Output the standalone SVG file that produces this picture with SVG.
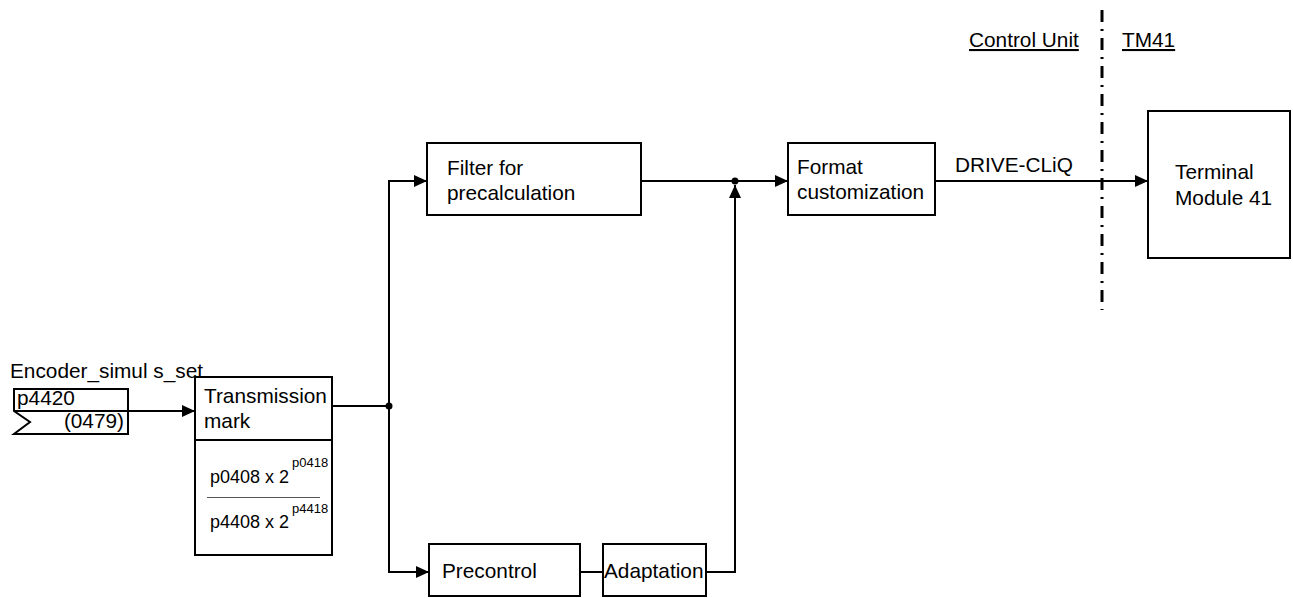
<svg xmlns="http://www.w3.org/2000/svg" width="1293" height="598" viewBox="0 0 1293 598">
<style>
.box{fill:#fff;stroke:#000;stroke-width:2}
.ln{fill:none;stroke:#000;stroke-width:2}
.t{font-family:"Liberation Sans",Arial,sans-serif;font-size:20.8px;fill:#000}
.f{font-family:"Liberation Sans",Arial,sans-serif;font-size:18px;fill:#000}
.s{font-family:"Liberation Sans",Arial,sans-serif;font-size:13px;fill:#000}
</style>
<defs>
<marker id="arr" markerUnits="userSpaceOnUse" markerWidth="14" markerHeight="12" refX="13" refY="6" orient="auto">
<path d="M0,0 L13,6 L0,12 z" fill="#000"/>
</marker>
</defs>
<rect width="1293" height="598" fill="#fff"/>

<g id="connectors">
<path class="ln" d="M128,411 H195" marker-end="url(#arr)"/>
<path class="ln" d="M332,406 H389"/>
<path class="ln" d="M389,406 V181 H427" marker-end="url(#arr)"/>
<path class="ln" d="M389,406 V572 H429" marker-end="url(#arr)"/>
<path class="ln" d="M580,572 H603"/>
<path class="ln" d="M706,572 H735 V185" marker-end="url(#arr)"/>
<path class="ln" d="M641,181 H788" marker-end="url(#arr)"/>
<path class="ln" d="M935,181 H1148" marker-end="url(#arr)"/>
<circle cx="389" cy="406" r="3.5" fill="#000"/>
<circle cx="735" cy="181" r="3.5" fill="#000"/>
<text class="t" x="955" y="172">DRIVE-CLiQ</text>
</g>

<g id="boundary">
<line x1="1102" y1="10" x2="1102" y2="310" stroke="#000" stroke-width="3" stroke-dasharray="12 7 2 7"/>
<text class="t" x="969" y="47" text-decoration="underline">Control Unit</text>
<text class="t" x="1122" y="47" text-decoration="underline">TM41</text>
</g>

<g id="input">
<text class="t" x="10" y="378">Encoder_simul s_set</text>
<path class="ln" d="M14,389 H128 V434 H14 L30,422 L14,411 Z M14,411 H128"/>
<text class="t" x="17" y="405">p4420</text>
<text class="t" x="124" y="428" text-anchor="end">(0479)</text>
</g>

<g id="transmission">
<rect class="box" x="195" y="377" width="137" height="178"/>
<line class="ln" x1="195" y1="440" x2="332" y2="440"/>
<text class="t" x="204" y="403">Transmission</text>
<text class="t" x="204" y="428">mark</text>
<text class="f" x="210" y="483">p0408 x 2</text>
<text class="s" x="292" y="467">p0418</text>
<line x1="207" y1="497.5" x2="320" y2="497.5" stroke="#555" stroke-width="1"/>
<text class="f" x="210" y="528">p4408 x 2</text>
<text class="s" x="292" y="513">p4418</text>
</g>

<g id="filter">
<rect class="box" x="427" y="143" width="214" height="72"/>
<text class="t" x="447" y="175">Filter for</text>
<text class="t" x="447" y="200">precalculation</text>
</g>

<g id="format">
<rect class="box" x="788" y="143" width="147" height="72"/>
<text class="t" x="797" y="174">Format</text>
<text class="t" x="797" y="199">customization</text>
</g>

<g id="terminal">
<rect class="box" x="1148" y="111" width="142" height="147"/>
<text class="t" x="1175" y="179">Terminal</text>
<text class="t" x="1175" y="205">Module 41</text>
</g>

<g id="precontrol">
<rect class="box" x="429" y="544" width="151" height="52"/>
<text class="t" x="442" y="578">Precontrol</text>
</g>

<g id="adaptation">
<rect class="box" x="603" y="544" width="103" height="52"/>
<text class="t" x="604" y="578">Adaptation</text>
</g>
</svg>
